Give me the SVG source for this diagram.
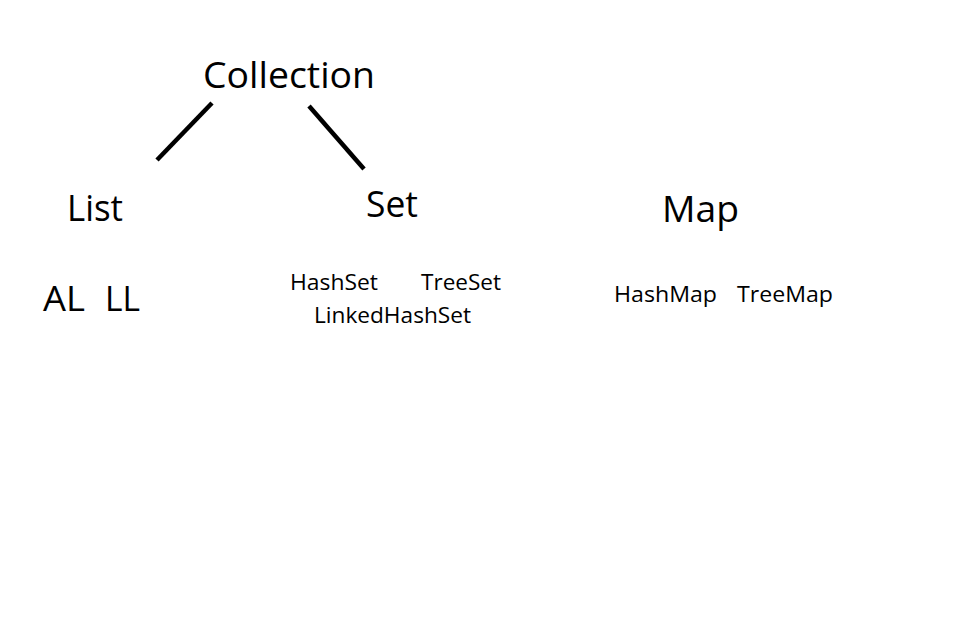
<svg xmlns="http://www.w3.org/2000/svg" width="966" height="618" viewBox="0 0 966 618">
<style>
text{font-family:"Open Sans","Liberation Sans",sans-serif;fill:#000}
.big{font-size:37px}
.mid{font-size:35px}
.small{font-size:21px}
.conn line{stroke:#000;stroke-width:4.5;stroke-linecap:butt}
</style>
<rect width="966" height="618" fill="#fff"/>
<g id="collection"><text class="big" x="203" y="88" textLength="172" lengthAdjust="spacingAndGlyphs">Collection</text></g>
<g id="list"><text class="big" x="67" y="221" textLength="56" lengthAdjust="spacingAndGlyphs">List</text></g>
<g id="set"><text class="big" x="366" y="217" textLength="52" lengthAdjust="spacingAndGlyphs">Set</text></g>
<g id="map"><text class="big" x="662" y="222" textLength="77" lengthAdjust="spacingAndGlyphs">Map</text></g>
<g id="al-ll"><text class="mid" x="43" y="311" textLength="42" lengthAdjust="spacingAndGlyphs">AL</text><text class="mid" x="105" y="311" textLength="35" lengthAdjust="spacingAndGlyphs">LL</text></g>
<g id="hashset"><text class="small" x="290" y="290" textLength="88" lengthAdjust="spacingAndGlyphs">HashSet</text></g>
<g id="treeset"><text class="small" x="421" y="290" textLength="80" lengthAdjust="spacingAndGlyphs">TreeSet</text></g>
<g id="linkedhashset"><text class="small" x="314" y="323" textLength="157" lengthAdjust="spacingAndGlyphs">LinkedHashSet</text></g>
<g id="hashmap"><text class="small" x="614" y="302" textLength="103" lengthAdjust="spacingAndGlyphs">HashMap</text></g>
<g id="treemap"><text class="small" x="737" y="302" textLength="96" lengthAdjust="spacingAndGlyphs">TreeMap</text></g>
<g id="connectors" class="conn">
<line x1="212" y1="103" x2="157" y2="160"/>
<line x1="309" y1="106" x2="364" y2="169"/>
</g>
</svg>
